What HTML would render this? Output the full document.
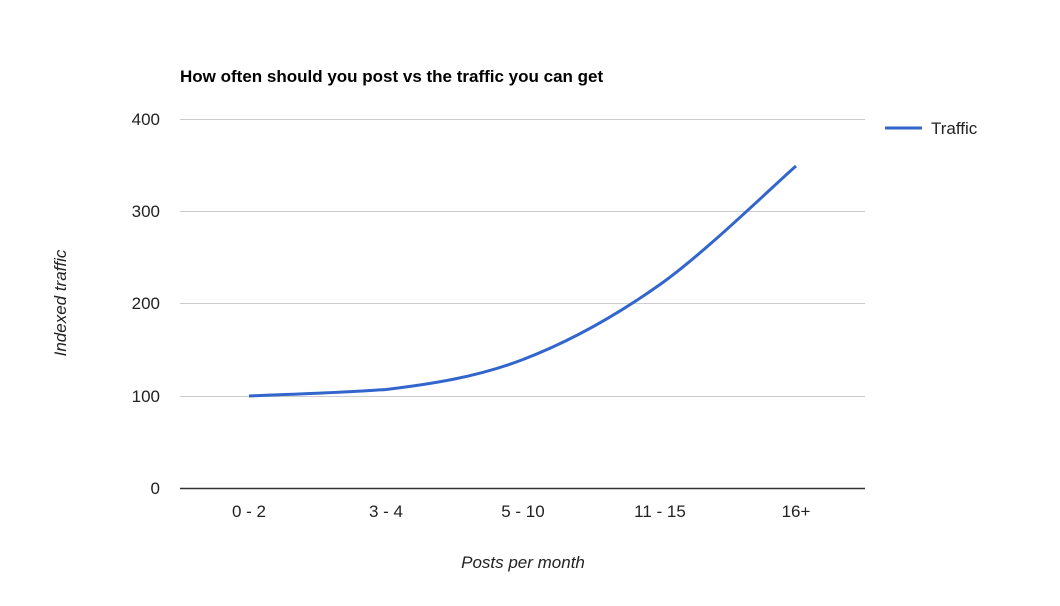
<!DOCTYPE html>
<html><head><meta charset="utf-8"><style>
html,body{margin:0;padding:0;background:#fff;}
svg{display:block;font-family:"Liberation Sans",Arial,sans-serif;}
</style></head><body>
<svg width="1060" height="606" viewBox="0 0 1060 606" xmlns="http://www.w3.org/2000/svg">
<rect width="1060" height="606" fill="#fff"/>
<text x="180" y="82" font-size="17" font-weight="bold" fill="#000">How often should you post vs the traffic you can get</text>
<g stroke="#cccccc" stroke-width="1">
<line x1="180" y1="119.5" x2="865" y2="119.5"/>
<line x1="180" y1="211.5" x2="865" y2="211.5"/>
<line x1="180" y1="303.5" x2="865" y2="303.5"/>
<line x1="180" y1="396.5" x2="865" y2="396.5"/>
</g>
<line x1="180" y1="488.5" x2="865" y2="488.5" stroke="#333" stroke-width="1.5"/>
<g font-size="17" fill="#222" text-anchor="end">
<text x="160" y="125">400</text>
<text x="160" y="217">300</text>
<text x="160" y="309">200</text>
<text x="160" y="402">100</text>
<text x="160" y="494">0</text>
</g>
<g font-size="17" fill="#222" text-anchor="middle">
<text x="249" y="517">0 - 2</text>
<text x="386" y="517">3 - 4</text>
<text x="523" y="517">5 - 10</text>
<text x="660" y="517">11 - 15</text>
<text x="796" y="517">16+</text>
</g>
<text x="523" y="568" font-size="17" font-style="italic" fill="#222" text-anchor="middle">Posts per month</text>
<text transform="translate(66,303) rotate(-90)" font-size="17" font-style="italic" fill="#222" text-anchor="middle">Indexed traffic</text>
<path d="M249,396 C271.8,394.9 340.3,393 386,389.5 C431.7,384 477.3,377 523,359.5 C568.7,342 614.5,316.75 660,284.5 C705.5,252.25 773.3,185.75 796,166" fill="none" stroke="#3366cc" stroke-width="3"/>
<line x1="885" y1="128" x2="922" y2="128" stroke="#3366cc" stroke-width="3"/>
<text x="931" y="134" font-size="17" fill="#222">Traffic</text>
</svg>
</body></html>
